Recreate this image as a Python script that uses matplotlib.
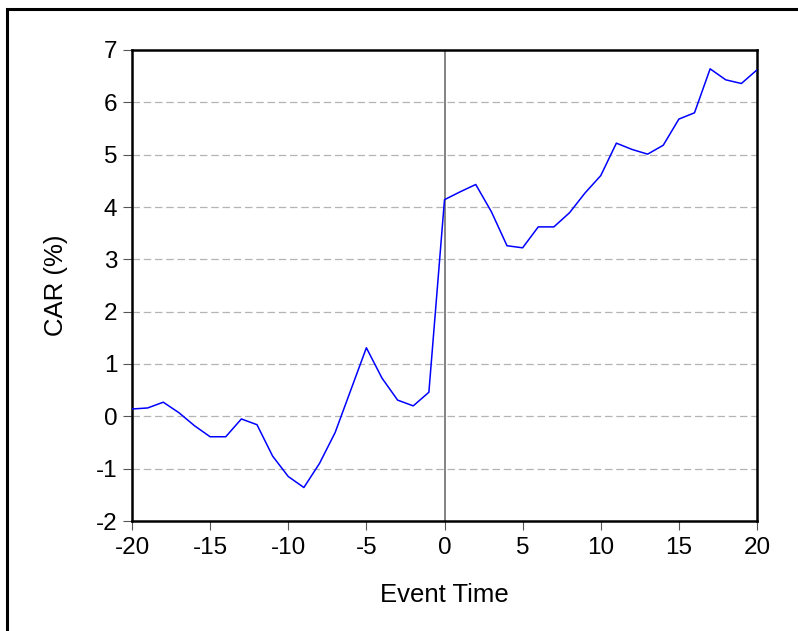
import matplotlib.pyplot as plt
from matplotlib.patches import Rectangle

plt.rcParams['font.family'] = ['Liberation Sans', 'DejaVu Sans']

# event window and cumulative abnormal return (%)
event_time = list(range(-20, 21))
car = [0.14, 0.16, 0.27, 0.07, -0.18, -0.39, -0.39, -0.05, -0.16, -0.76,
       -1.15, -1.36, -0.90, -0.31, 0.50, 1.31, 0.73, 0.31, 0.20, 0.46,
       4.14, 4.29, 4.43, 3.91, 3.26, 3.22, 3.62, 3.62, 3.89, 4.27,
       4.60, 5.22, 5.10, 5.01, 5.18, 5.68, 5.80, 6.64, 6.43, 6.36, 6.62]
x_ticks = [-20, -15, -10, -5, 0, 5, 10, 15, 20]
y_ticks = [-2, -1, 0, 1, 2, 3, 4, 5, 6, 7]

fig = plt.figure(figsize=(7.98, 6.31), dpi=100)
ax = fig.add_axes([132 / 798, 1 - 521 / 631, (757 - 132) / 798, (521 - 50) / 631])

# outer frame (cut off at right and bottom like the source image)
fig.patches.append(Rectangle((7 / 798, -0.2), 1.2, 1.2 - 9 / 631,
                             transform=fig.transFigure, fill=False,
                             edgecolor='black', linewidth=2.2))

for y in y_ticks[1:-1]:
    ax.axhline(y, color='#b4b4b4', linewidth=0.9, linestyle=(0, (6, 3)), zorder=1)
ax.axvline(0, color='#6e6e6e', linewidth=1.2, zorder=2)
ax.plot(event_time, car, color='#0000ff', linewidth=1.1, zorder=3)

ax.set_xlim(-20, 20)
ax.set_ylim(-2, 7)
ax.set_xticks(x_ticks)
ax.set_yticks(y_ticks)
ax.set_xticklabels([str(t) for t in x_ticks])
ax.set_yticklabels([str(t) for t in y_ticks])
ax.tick_params(direction='out', length=6.5, width=0.8, color='#555555',
               labelsize=17.5, pad=5)
ax.tick_params(axis='y', pad=4)

for side in ['left', 'bottom', 'top', 'right']:
    ax.spines[side].set_linewidth(1.8)
    ax.spines[side].set_color('black')

ax.set_xlabel('Event Time', fontsize=18.5, labelpad=17)
ax.set_ylabel('CAR (%)', fontsize=18.5, labelpad=20)

fig.savefig('out.png', dpi=100)
